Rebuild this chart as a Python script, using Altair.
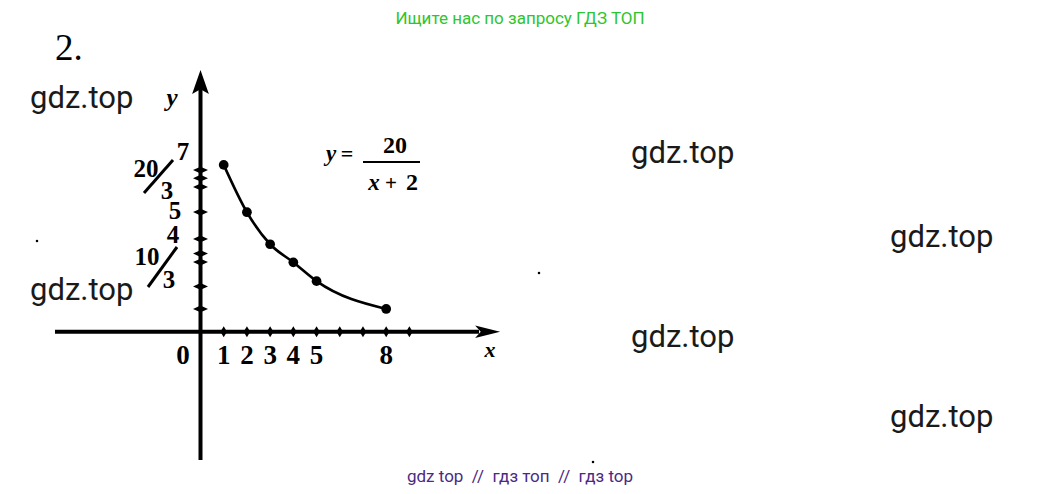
import altair as alt
import pandas as pd

# ---- data ----
curve_x = [1, 2, 3, 4, 5, 8]
curve_y = [7.19, 5.15, 3.77, 2.99, 2.18, 0.98]
x_tick_values = [1, 2, 3, 4, 5, 6, 7, 8, 9]
y_tick_values = [0.98, 1.95, 3.0, 3.37, 4.0, 5.16, 6.24, 6.62, 6.97]
x_label_text = ["0", "1", "2", "3", "4", "5", "8"]
x_label_pos = [-0.75, 1, 2, 3, 4, 5, 8]

W, H = 1025, 478
xs = alt.Scale(domain=[-8.294, 35.868], nice=False, zero=False)
ys = alt.Scale(domain=[-6.650, 13.953], nice=False, zero=False)


def X(f):
    return alt.X(f, type="quantitative", scale=xs, axis=None)


def Y(f):
    return alt.Y(f, type="quantitative", scale=ys, axis=None)


one = pd.DataFrame({"k": [0]})


def txt(s, px, py, size, font="Liberation Serif", weight="bold", style="normal",
        color="black", align="center", baseline="alphabetic"):
    return alt.Chart(one).mark_text(
        text=s, fontSize=size, font=font, fontWeight=weight, fontStyle=style,
        color=color, align=align, baseline=baseline
    ).encode(x=alt.value(px - 8), y=alt.value(py - 8))


def seg(x1, y1, x2, y2, w):
    return alt.Chart(one).mark_rule(color="black", strokeWidth=w).encode(
        x=alt.value(x1 - 8), x2=alt.value(x2 - 8), y=alt.value(y1 - 8), y2=alt.value(y2 - 8)
    )


layers = []

# axes
xaxis = pd.DataFrame({"x": [-6.27], "x2": [12.0], "y": [0]})
layers.append(alt.Chart(xaxis).mark_rule(color="black", strokeWidth=4).encode(
    x=X("x"), x2="x2", y=Y("y")))
yaxis = pd.DataFrame({"x": [0], "y": [-5.53], "y2": [10.5]})
layers.append(alt.Chart(yaxis).mark_rule(color="black", strokeWidth=4).encode(
    x=X("x"), y=Y("y"), y2="y2"))

# arrow heads
arr_r = pd.DataFrame({"x": [12.37], "y": [0]})
layers.append(alt.Chart(arr_r).mark_point(
    shape="M1,0 L-1,-0.5 L-0.55,0 L-1,0.5 Z", filled=True, opacity=1, color="black", size=625
).encode(x=X("x"), y=Y("y")))
arr_u = pd.DataFrame({"x": [0], "y": [10.76]})
layers.append(alt.Chart(arr_u).mark_point(
    shape="M0,-1 L0.7,1 L0,0.6 L-0.7,1 Z", filled=True, opacity=1, color="black", size=576
).encode(x=X("x"), y=Y("y")))

# ticks
xt = pd.DataFrame({"x": x_tick_values, "y": [0] * len(x_tick_values)})
layers.append(alt.Chart(xt).mark_point(
    shape="M0,-1 L0.6,0 L0,1 L-0.6,0 Z", filled=True, opacity=1, color="black", size=120
).encode(x=X("x"), y=Y("y")))
yt = pd.DataFrame({"x": [0] * len(y_tick_values), "y": y_tick_values})
layers.append(alt.Chart(yt).mark_point(
    shape="M-1,0 L0,-0.45 L1,0 L0,0.45 Z", filled=True, opacity=1, color="black", size=225
).encode(x=X("x"), y=Y("y")))

# curve
cv = pd.DataFrame({"x": curve_x, "y": curve_y})
layers.append(alt.Chart(cv).mark_line(
    interpolate="monotone", color="black", strokeWidth=2.6
).encode(x=X("x"), y=Y("y")))
layers.append(alt.Chart(cv).mark_circle(color="black", opacity=1, size=95).encode(
    x=X("x"), y=Y("y")))

# x tick labels
xl = pd.DataFrame({"x": x_label_pos, "y": [0] * len(x_label_pos), "t": x_label_text})
layers.append(alt.Chart(xl).mark_text(
    font="Liberation Serif", fontWeight="bold", fontSize=27, color="black",
    baseline="alphabetic", dy=32
).encode(x=X("x"), y=Y("y"), text="t:N"))

# y labels (fractions drawn as in the figure)
layers.append(txt("7", 183, 160, 25))
layers.append(txt("20", 146, 177, 25))
layers.append(txt("3", 167, 199, 25))
layers.append(seg(144, 193, 173, 160, 3))
layers.append(txt("5", 175, 219, 25))
layers.append(txt("4", 173, 243, 25))
layers.append(txt("10", 147, 265, 25))
layers.append(txt("3", 169, 288, 25))
layers.append(seg(148, 287, 177, 247, 3))

# axis names
layers.append(txt("y", 172, 106, 25, style="italic"))
layers.append(txt("x", 490, 357, 22, style="italic"))

# formula
layers.append(txt("y", 331, 161, 23, style="italic"))
layers.append(txt("=", 347, 161, 22))
layers.append(txt("20", 395, 153, 24))
layers.append(seg(363, 162, 420, 162, 2))
layers.append(txt("x", 374, 190, 23, style="italic"))
layers.append(txt("+", 391, 190, 21))
layers.append(txt("2", 412, 190, 24))

# exercise number
layers.append(txt("2.", 55, 60, 37, weight="normal", align="left"))

# watermarks
for (px, py) in [(30, 108), (30, 300), (631, 163), (890, 247), (631, 347), (890, 427)]:
    layers.append(txt("gdz.top", px, py, 31, font="Roboto", weight="normal", color="#1a1a1a",
                      align="left"))

layers.append(txt("Ищите нас по запросу ГДЗ ТОП", 520, 24, 17, font="Roboto",
                  weight="normal", color="#2ec52e"))
nb = "\u00a0"
layers.append(txt(f"gdz top{nb}{nb}//{nb}{nb}гдз топ{nb}{nb}//{nb}{nb}гдз top", 520, 482, 17,
                  font="Roboto", weight="normal", color="#4b2a85"))

# stray dots in the scan
for (px, py) in [(37, 241), (539, 273), (593, 462)]:
    layers.append(alt.Chart(one).mark_square(color="black", opacity=1, size=5).encode(
        x=alt.value(px - 8), y=alt.value(py - 8)))

chart = alt.layer(*layers).properties(
    width=W, height=H, autosize=alt.AutoSizeParams(type="none"), padding=0
).configure_view(stroke=None)

chart.save("out.html", embed_options={"renderer": "svg", "actions": False})
